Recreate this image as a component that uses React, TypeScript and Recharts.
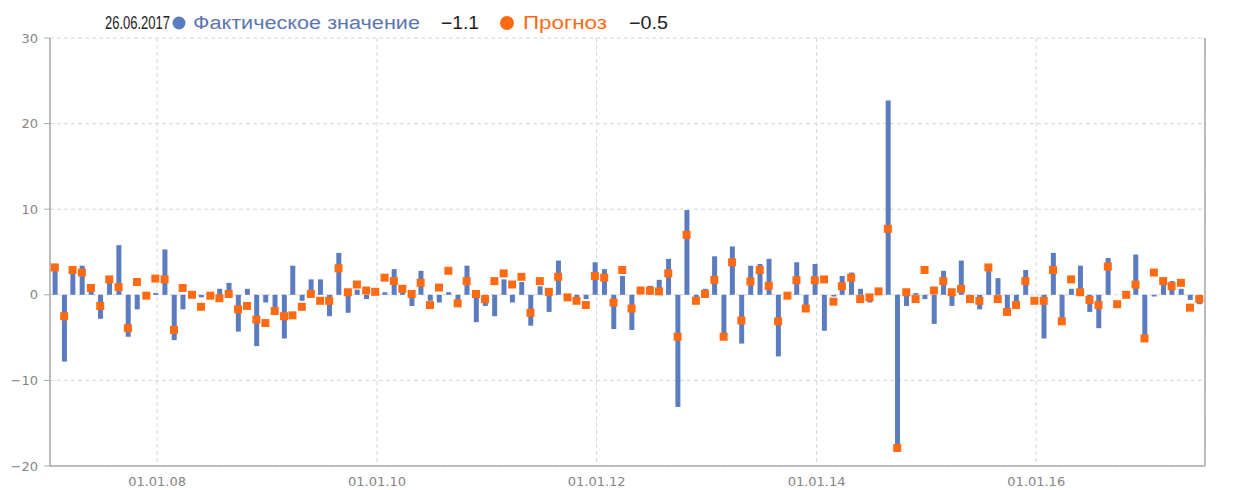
import { Bar, CartesianGrid, ComposedChart, Scatter, XAxis, YAxis } from 'recharts'

const dates = [
  '2007-01-26', '2007-02-26', '2007-03-26', '2007-04-26', '2007-05-26', '2007-06-26',
  '2007-07-26', '2007-08-26', '2007-09-26', '2007-10-26', '2007-11-26', '2007-12-26',
  '2008-01-26', '2008-02-26', '2008-03-26', '2008-04-26', '2008-05-26', '2008-06-26',
  '2008-07-26', '2008-08-26', '2008-09-26', '2008-10-26', '2008-11-26', '2008-12-26',
  '2009-01-26', '2009-02-26', '2009-03-26', '2009-04-26', '2009-05-26', '2009-06-26',
  '2009-07-26', '2009-08-26', '2009-09-26', '2009-10-26', '2009-11-26', '2009-12-26',
  '2010-01-26', '2010-02-26', '2010-03-26', '2010-04-26', '2010-05-26', '2010-06-26',
  '2010-07-26', '2010-08-26', '2010-09-26', '2010-10-26', '2010-11-26', '2010-12-26',
  '2011-01-26', '2011-02-26', '2011-03-26', '2011-04-26', '2011-05-26', '2011-06-26',
  '2011-07-26', '2011-08-26', '2011-09-26', '2011-10-26', '2011-11-26', '2011-12-26',
  '2012-01-26', '2012-02-26', '2012-03-26', '2012-04-26', '2012-05-26', '2012-06-26',
  '2012-07-26', '2012-08-26', '2012-09-26', '2012-10-26', '2012-11-26', '2012-12-26',
  '2013-01-26', '2013-02-26', '2013-03-26', '2013-04-26', '2013-05-26', '2013-06-26',
  '2013-07-26', '2013-08-26', '2013-09-26', '2013-10-26', '2013-11-26', '2013-12-26',
  '2014-01-26', '2014-02-26', '2014-03-26', '2014-04-26', '2014-05-26', '2014-06-26',
  '2014-07-26', '2014-08-26', '2014-09-26', '2014-10-26', '2014-11-26', '2014-12-26',
  '2015-01-26', '2015-02-26', '2015-03-26', '2015-04-26', '2015-05-26', '2015-06-26',
  '2015-07-26', '2015-08-26', '2015-09-26', '2015-10-26', '2015-11-26', '2015-12-26',
  '2016-01-26', '2016-02-26', '2016-03-26', '2016-04-26', '2016-05-26', '2016-06-26',
  '2016-07-26', '2016-08-26', '2016-09-26', '2016-10-26', '2016-11-26', '2016-12-26',
  '2017-01-26', '2017-02-26', '2017-03-26', '2017-04-26', '2017-05-26', '2017-06-26',
]

// фактическое значение
const actual = [
  3.3, -7.8, 3.0, 3.4, 0.4, -2.8, 1.75, 5.8, -4.9, -1.7, 0.1, 0.2,
  5.3, -5.3, -1.7, 0.0, -0.3, 0.0, 0.7, 1.4, -4.3, 0.7, -6.0, -0.9,
  -1.6, -5.1, 3.4, -0.7, 1.8, 1.8, -2.5, 4.9, -2.1, 0.6, -0.5, 0.0,
  0.3, 3.0, 0.3, -1.3, 2.8, -0.7, -0.9, 0.3, -0.6, 3.4, -3.2, -1.3,
  -2.5, 1.8, -0.9, 1.5, -3.6, 1.0, -2.0, 4.0, -0.2, -0.5, -0.5, 3.8,
  3.0, -4.0, 2.2, -4.1, 0.0, 1.05, 1.75, 4.2, -13.1, 9.9, -0.3, 0.7,
  4.5, -4.9, 5.65, -5.7, 3.4, 3.6, 4.2, -7.2, 0.0, 3.8, -1.95, 3.6,
  -4.2, -0.2, 2.2, 2.6, 0.7, -0.9, 0.0, 22.7, -17.8, -1.3, 0.2, -0.5,
  -3.4, 2.8, -1.3, 4.0, -0.3, -1.7, 3.5, 1.95, -2.1, -1.2, 2.9, 0.0,
  -5.1, 4.9, -3.1, 0.7, 3.4, -2.0, -3.9, 4.3, 0.0, 0.0, 4.7, -5.1,
  -0.2, 1.7, 1.6, 0.7, -0.6, -1.1,
]

// прогноз
const forecast = [
  3.2, -2.5, 2.9, 2.6, 0.8, -1.3, 1.8, 0.9, -3.9, 1.5, -0.1, 1.9,
  1.8, -4.1, 0.8, 0.0, -1.4, -0.1, -0.4, 0.1, -1.7, -1.3, -2.9, -3.3,
  -1.9, -2.5, -2.4, -1.4, 0.1, -0.7, -0.7, 3.1, 0.3, 1.2, 0.5, 0.35,
  2.0, 1.6, 0.7, 0.1, 1.4, -1.2, 0.85, 2.8, -1.0, 1.6, 0.1, -0.5,
  1.6, 2.5, 1.2, 2.1, -2.1, 1.6, 0.35, 2.1, -0.3, -0.7, -1.2, 2.2,
  2.0, -0.9, 2.9, -1.6, 0.5, 0.5, 0.4, 2.5, -4.9, 7.0, -0.7, 0.1,
  1.75, -4.9, 3.8, -3.0, 1.55, 2.9, 1.05, -3.1, -0.1, 1.7, -1.6, 1.7,
  1.8, -0.8, 1.0, 2.0, -0.5, -0.3, 0.4, 7.7, -17.9, 0.3, -0.5, 2.9,
  0.5, 1.6, 0.3, 0.7, -0.5, -0.7, 3.2, -0.5, -2.0, -1.2, 1.6, -0.7,
  -0.7, 2.9, -3.1, 1.8, 0.3, -0.6, -1.2, 3.3, -1.1, 0.0, 1.2, -5.1,
  2.6, 1.6, 1.0, 1.4, -1.5, -0.5,
]

const xTicks = ['2008-01-01', '2010-01-01', '2012-01-01', '2014-01-01', '2016-01-01']
const yTicks = [-20, -10, 0, 10, 20, 30]

const toTime = (s: string) => Date.parse(s + 'T00:00:00Z')

const data = dates.map((d, i) => ({ t: toTime(d), actual: actual[i], forecast: forecast[i] }))

const xDomain = [toTime('2007-01-10'), toTime('2017-07-15')]

const BLUE = '#5b7cbf'
const ORANGE = '#ff6a13'
const AXIS = '#a8a8a8'
const LABEL = '#858585'

function fmtDate(v: number) {
  const d = new Date(v)
  const dd = String(d.getUTCDate()).padStart(2, '0')
  const mm = String(d.getUTCMonth() + 1).padStart(2, '0')
  const yy = String(d.getUTCFullYear()).slice(2)
  return `${dd}.${mm}.${yy}`
}

const fmtY = (v: number) => (v < 0 ? `\u2212${Math.abs(v)}` : String(v))

const tickFont = { fill: LABEL, fontSize: 13, fontFamily: "'DejaVu Sans', sans-serif" }

// legend drawn as svg text so the narrow look of the original can be kept
function LegendBar() {
  const txt = (x: number, w: number, fill: string, s: string) => (
    <text x={x} y={29} textLength={w} lengthAdjust="spacingAndGlyphs" fill={fill}>
      {s}
    </text>
  )
  return (
    <svg
      width={1251}
      height={36}
      style={{ position: 'absolute', left: 0, top: 0 }}
      fontFamily="'Liberation Sans', Arial, sans-serif"
      fontSize={18}
    >
      {txt(105, 65, '#222', '26.06.2017')}
      <circle cx={179} cy={23} r={6.5} fill={BLUE} />
      {txt(193, 227, '#5b76b0', 'Фактическое значение')}
      {txt(441, 38, '#222', '\u22121.1')}
      <circle cx={507} cy={23} r={7} fill={ORANGE} />
      {txt(523, 84, ORANGE, 'Прогноз')}
      {txt(629, 39, '#222', '\u22120.5')}
    </svg>
  )
}

export default function App() {
  return (
    <div style={{ position: 'absolute', left: 0, top: 0, width: 1251, height: 490, background: '#fff' }}>
      <ComposedChart width={1251} height={490} data={data} margin={{ top: 38, right: 0, bottom: 0, left: 0 }}>
        <CartesianGrid stroke="#d6d6d6" strokeDasharray="4 3" />
        <XAxis
          dataKey="t"
          type="number"
          domain={xDomain}
          ticks={xTicks.map(toTime)}
          tickFormatter={fmtDate}
          height={24}
          tick={tickFont}
          tickLine={false}
          tickMargin={5}
          axisLine={{ stroke: AXIS, strokeWidth: 1.5 }}
          allowDataOverflow
        />
        <YAxis
          domain={[-20, 30]}
          ticks={yTicks}
          width={50}
          tick={tickFont}
          tickFormatter={fmtY}
          tickSize={6}
          tickMargin={6}
          tickLine={{ stroke: AXIS }}
          axisLine={{ stroke: AXIS, strokeWidth: 1.5 }}
        />
        <YAxis
          yAxisId="r"
          orientation="right"
          domain={[-20, 30]}
          ticks={yTicks}
          width={46}
          tick={tickFont}
          tickFormatter={fmtY}
          tickSize={6}
          tickMargin={6}
          tickLine={{ stroke: AXIS }}
          axisLine={{ stroke: AXIS, strokeWidth: 1.5 }}
        />
        <Bar dataKey="actual" fill={BLUE} barSize={5} isAnimationActive={false} />
        <Scatter dataKey="forecast" fill={ORANGE} shape="square" isAnimationActive={false} />
      </ComposedChart>
      <LegendBar />
    </div>
  )
}
